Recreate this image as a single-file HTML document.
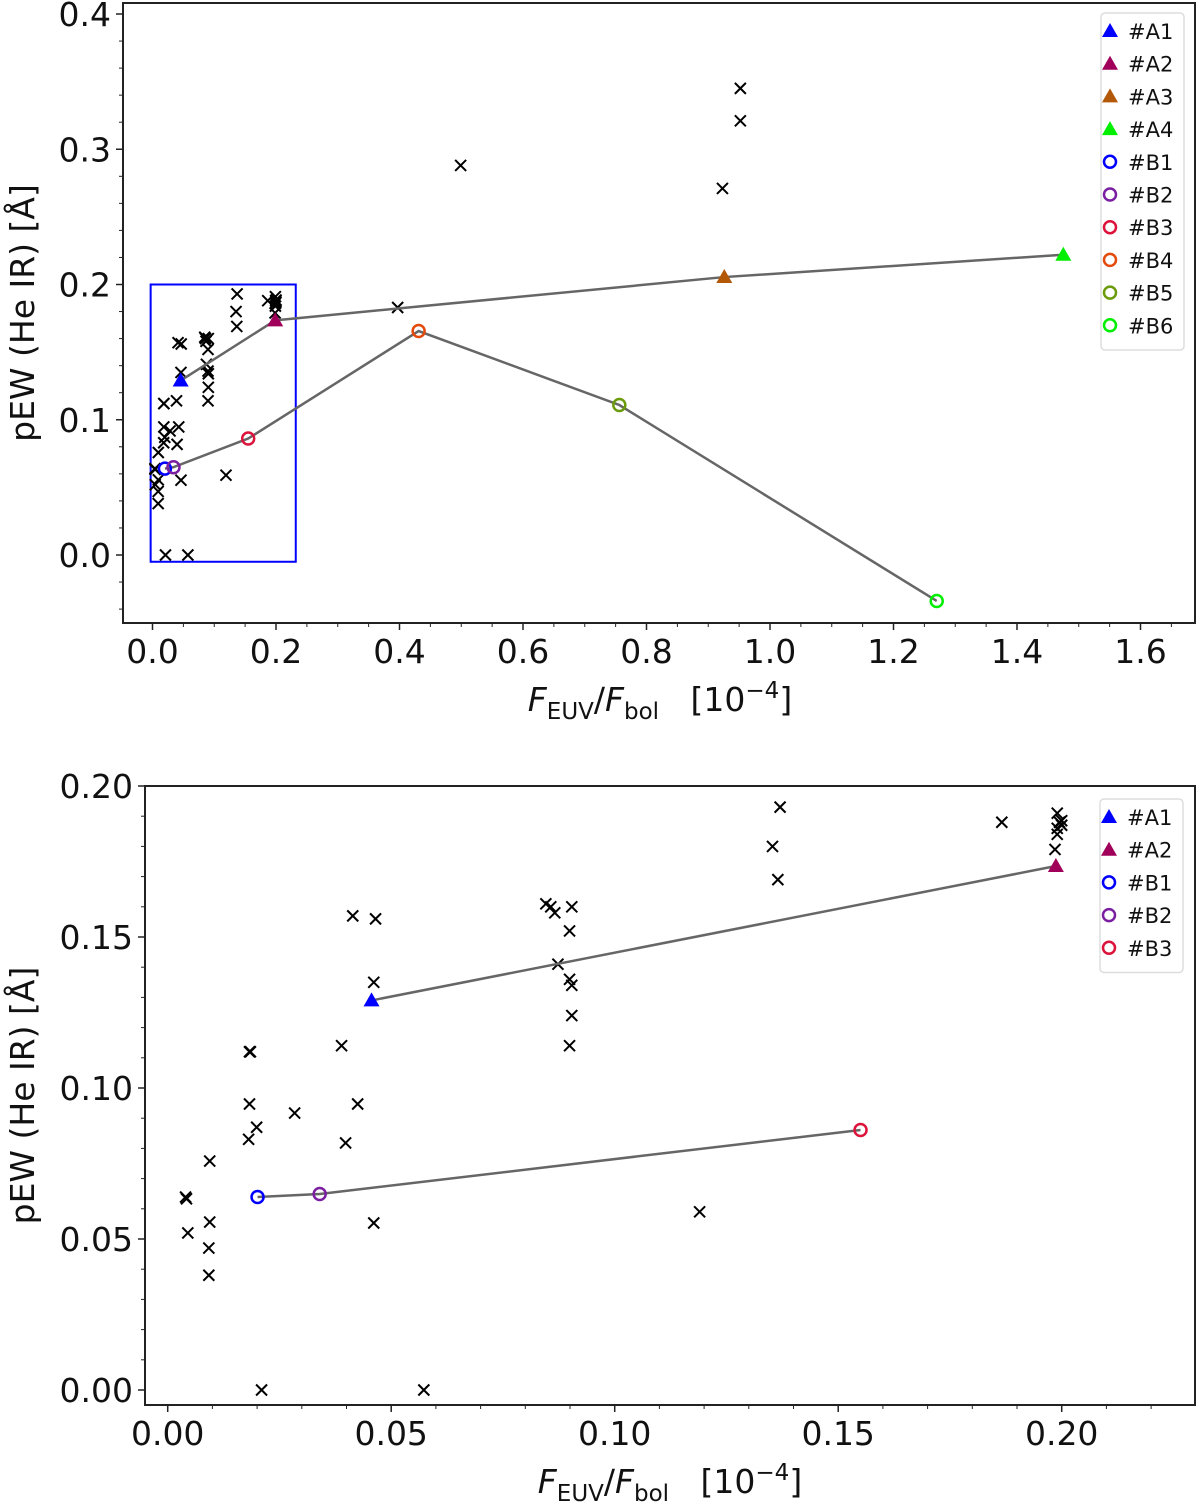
<!DOCTYPE html>
<html><head><meta charset="utf-8"><style>
body{margin:0;background:#fff}
svg{display:block;font-family:"DejaVu Sans","Liberation Sans",sans-serif}
</style></head><body>
<svg id="chart" width="1200" height="1504" viewBox="0 0 1200 1504" xmlns="http://www.w3.org/2000/svg"></svg>
<script>
// Scatter data (x = F_EUV/F_bol [1e-4], y = pEW [Å])
const crossX = [0.952,0.952,0.923,0.499,0.397,
 0.004,0.0042,0.0045,0.0094,0.0094,0.0092,0.0092,0.0183,0.0185,0.0183,0.0181,0.0199,0.021,0.0284,0.0389,0.0398,0.0414,0.0425,0.0461,0.0465,0.0461,0.0573,
 0.0846,0.0857,0.0866,0.0873,0.0904,0.0899,0.0899,0.0904,0.0904,0.0899,0.119,0.1353,0.1365,0.137,0.1866,
 0.199,0.1995,0.199,0.2,0.199,0.1985,0.2];
const crossY = [0.345,0.321,0.271,0.288,0.183,
 0.0639,0.0633,0.052,0.0758,0.0556,0.047,0.038,0.112,0.112,0.0947,0.083,0.087,0.0,0.0917,0.114,0.0818,0.157,0.0947,0.135,0.156,0.0553,0.0,
 0.161,0.160,0.158,0.141,0.160,0.152,0.136,0.134,0.124,0.114,0.059,0.180,0.169,0.193,0.188,
 0.191,0.188,0.186,0.1885,0.184,0.179,0.187];
const seriesNames = ["#A1","#A2","#A3","#A4","#B1","#B2","#B3","#B4","#B5","#B6"];
const seriesX = [0.0456,0.1987,0.926,1.475,0.0201,0.034,0.155,0.431,0.756,1.27];
const seriesY = [0.129,0.1735,0.2055,0.222,0.0639,0.0649,0.0861,0.1656,0.1109,-0.034];
const seriesColor = ["#0000ff","#a0005a","#b35806","#00ee00","#0000ff","#7a1fa2","#dc143c","#e34a0c","#6b9a0a","#00ee00"];
const lineA = [0,1,2,3];
const lineB = [4,5,6,7,8,9];
const topXTicks = ["0.0","0.2","0.4","0.6","0.8","1.0","1.2","1.4","1.6"];
const topYTicks = ["0.0","0.1","0.2","0.3","0.4"];
const botXTicks = ["0.00","0.05","0.10","0.15","0.20"];
const botYTicks = ["0.00","0.05","0.10","0.15","0.20"];

const NS="http://www.w3.org/2000/svg";
const svg=document.getElementById('chart');
function el(tag,attrs,parent,text){const e=document.createElementNS(NS,tag);for(const k in attrs)e.setAttribute(k,attrs[k]);if(text!=null)e.textContent=text;(parent||svg).appendChild(e);return e;}

function panel(cfg){
  const g=el('g',{});
  
  
  const X=v=>cfg.px0+(v-cfg.x0)*cfg.pxs, Y=v=>cfg.py0-(v-cfg.y0)*cfg.pys;
  const clipId=cfg.name+'-clip';
  const cp=el('clipPath',{id:clipId},g);
  el('rect',{x:cfg.L,y:cfg.T,width:cfg.R-cfg.L,height:cfg.B-cfg.T},cp);
  const plot=el('g',{'clip-path':'url(#'+clipId+')'},g);
  
  
  if(cfg.box){
    const b=el('rect',{x:X(cfg.box[0]),y:Y(cfg.box[3]),width:X(cfg.box[1])-X(cfg.box[0]),height:Y(cfg.box[2])-Y(cfg.box[3]),fill:'none',stroke:'#0000ff','stroke-width':2},plot);
    
    
  }
  for(let i=0;i<crossX.length;i++){
    const x=X(crossX[i]),y=Y(crossY[i]),s=5.5;
    const c=el('path',{d:`M${x-s},${y-s}L${x+s},${y+s}M${x-s},${y+s}L${x+s},${y-s}`,stroke:'#000','stroke-width':2},plot);
    
    
  }
  for(const idxs of [lineA,lineB]){
    const pts=idxs.filter(i=>cfg.series.includes(i)).map(i=>X(seriesX[i])+','+Y(seriesY[i])).join(' ');
    const pl=el('polyline',{points:pts,fill:'none',stroke:'#666','stroke-width':2.5},plot);
    
    
  }
  function marker(i,x,y,parent){
    let m;
    if(seriesNames[i][1]==='A') m=el('path',{d:`M${x},${y-8}L${x+8},${y+6}L${x-8},${y+6}Z`,fill:seriesColor[i]},parent);
    else m=el('circle',{cx:x,cy:y,r:6,fill:'none',stroke:seriesColor[i],'stroke-width':2.5},parent);
    return m;
  }
  for(const i of cfg.series){
    const m=marker(i,X(seriesX[i]),Y(seriesY[i]),plot);
    
    
  }
  const fr=el('rect',{x:cfg.L,y:cfg.T,width:cfg.R-cfg.L,height:cfg.B-cfg.T,fill:'none',stroke:'#222','stroke-width':2},g);
  
  
  const xa=el('g',{},g);
  
  
  cfg.xTicks.forEach(t=>{const x=X(parseFloat(t));
    el('line',{x1:x,x2:x,y1:cfg.B,y2:cfg.B+7,stroke:'#222','stroke-width':1.5},xa);
    const tl=el('text',{x:x,y:cfg.B+40,'text-anchor':'middle','font-size':33,fill:'#111'},xa,t);
    
    });
  for(let v=cfg.xMinStart;v<=cfg.xMinEnd+1e-9;v+=cfg.xMinor){const x=X(v);if(x<cfg.L||x>cfg.R)continue;
    el('line',{x1:x,x2:x,y1:cfg.B,y2:cfg.B+4,stroke:'#222','stroke-width':1},xa);}
  const ya=el('g',{},g);
  
  
  cfg.yTicks.forEach(t=>{const y=Y(parseFloat(t));
    el('line',{x1:cfg.L-7,x2:cfg.L,y1:y,y2:y,stroke:'#222','stroke-width':1.5},ya);
    const tl=el('text',{x:cfg.L-12,y:y+12,'text-anchor':'end','font-size':33,fill:'#111'},ya,t);
    
    });
  for(let v=cfg.yMinStart;v<=cfg.yMinEnd+1e-9;v+=cfg.yMinor){const y=Y(v);if(y<cfg.T||y>cfg.B)continue;
    el('line',{x1:cfg.L-4,x2:cfg.L,y1:y,y2:y,stroke:'#222','stroke-width':1},ya);}
  const xt=el('text',{x:cfg.xtX,y:cfg.B+88,'text-anchor':'middle','font-size':33,fill:'#111'},g);
  
  
  xt.innerHTML='<tspan font-style="italic">F</tspan><tspan font-size="23" dy="8">EUV</tspan><tspan dy="-8">/</tspan><tspan font-style="italic">F</tspan><tspan font-size="23" dy="8">bol</tspan><tspan dy="-8" xml:space="preserve">   [10</tspan><tspan font-size="23" dy="-13">−4</tspan><tspan dy="13">]</tspan>';
  const yt=el('text',{x:0,y:0,'text-anchor':'middle','font-size':33,fill:'#111',transform:`translate(${cfg.ytX},${(cfg.T+cfg.B)/2}) rotate(-90)`},g,'pEW (He IR) [Å]');
  
  
  const lg=el('g',{},g);
  
  
  el('rect',{x:cfg.legX,y:cfg.legY,width:83,height:cfg.series.length*32.7+10,rx:4,fill:'#fff',stroke:'#ddd','stroke-width':1.5},lg);
  cfg.series.forEach((i,k)=>{const y=cfg.legY+18+k*32.7;
    const en=el('g',{},lg);
    
    
    marker(i,cfg.legX+9,y,en);
    el('text',{x:cfg.legX+27,y:y+8,'font-size':21,fill:'#111'},en,seriesNames[i]);});
}

panel({name:'top-panel',L:123,R:1195,T:3,B:623,px0:152.5,x0:0,pxs:617.5,py0:555,y0:0,pys:1352.5,
  xTicks:topXTicks,yTicks:topYTicks,xMinor:0.05,xMinStart:0,xMinEnd:1.7,yMinor:0.02,yMinStart:-0.04,yMinEnd:0.4,
  series:[0,1,2,3,4,5,6,7,8,9],box:[-0.003,0.232,-0.005,0.2],legX:1101,legY:13,ytX:34,xtX:660});
panel({name:'bottom-panel',L:145,R:1195,T:786,B:1405,px0:167.7,x0:0,pxs:4470,py0:1390,y0:0,pys:3020,
  xTicks:botXTicks,yTicks:botYTicks,xMinor:0.01,xMinStart:0,xMinEnd:0.23,yMinor:0.01,yMinStart:0,yMinEnd:0.2,
  series:[0,1,4,5,6],box:null,legX:1100,legY:799,ytX:34,xtX:670});
</script>
</body></html>
